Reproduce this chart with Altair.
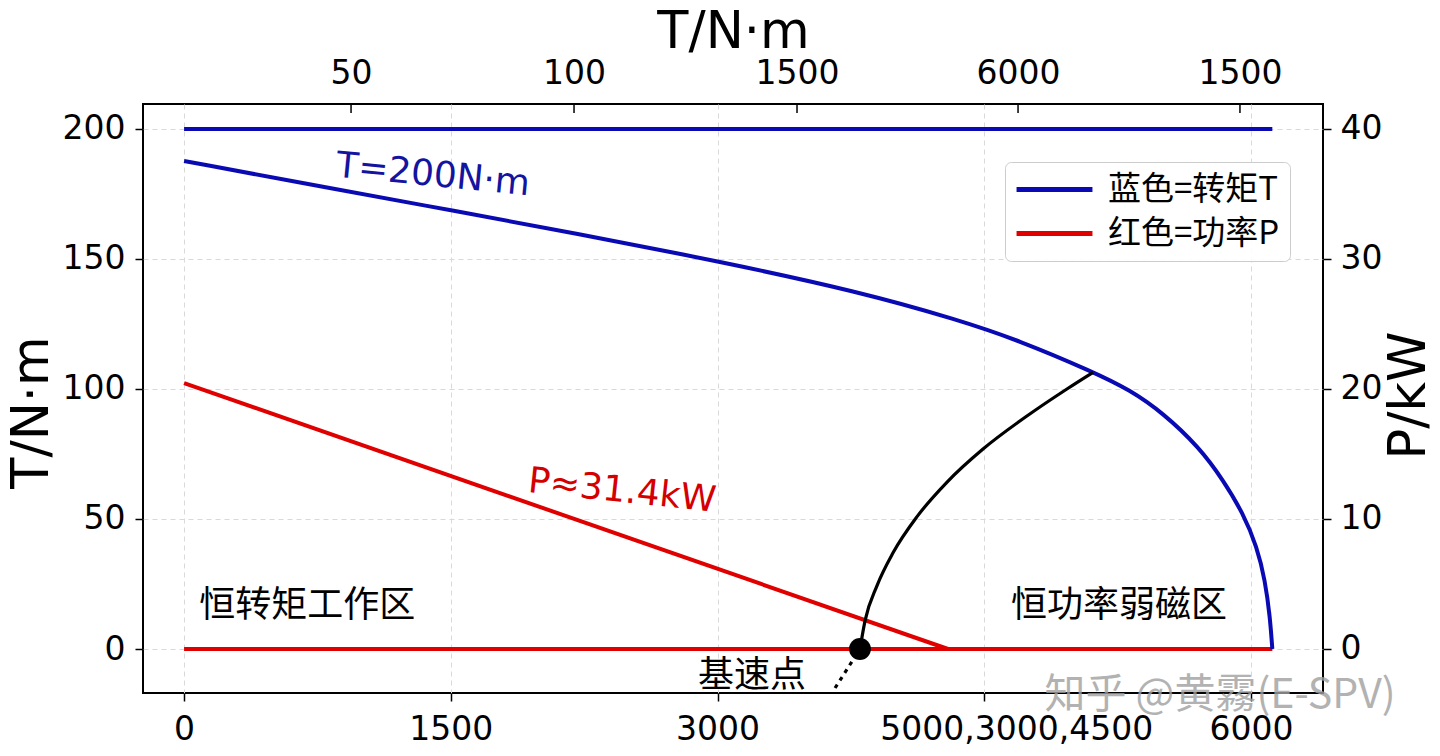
import altair as alt
import pandas as pd

# ---------------- data ----------------
blue_top_x = [0, 6120]
blue_top_T = [200, 200]

blue_curve_x = [0, 877, 1496, 2193, 3014, 3790, 4358, 4690, 5112, 5320, 5505,
                5710, 5843, 5955, 6034, 6079, 6107, 6120]
blue_curve_T = [187.7, 176.5, 168.8, 160.0, 149.0, 137.5, 126.5, 118.8, 106.6,
                99.6, 90.8, 77.5, 65.0, 52.3, 39.2, 26.5, 12.3, 0.0]

black_x = [3801, 3830, 3897, 3987, 4122, 4291, 4493, 4740, 4965, 5112]
black_T = [0.0, 11.0, 24.4, 37.0, 50.9, 64.2, 76.9, 89.6, 100.0, 106.4]

red_x = [0, 4296]
red_P = [20.45, 0.0]
red_zero_x = [0, 6120]
red_zero_P = [0.0, 0.0]

base_x = [3801]
base_T = [0.0]
dotted_x = [3801, 3661]
dotted_T = [0.0, -15.0]

bottom_ticks = [0, 1500, 3000, 4500, 6000]
bottom_labels = ["0", "1500", "3000", "5000,3000,4500", "6000"]
top_ticks = [939, 2193, 3447, 4690, 5938]
top_labels = ["50", "100", "1500", "6000", "1500"]
left_ticks = [0, 50, 100, 150, 200]
right_ticks = [0, 10, 20, 30, 40]

series = ["蓝色=转矩T", "红色=功率P"]

BLUE = "#0a0ab4"
RED = "#e00000"
FONT = "DejaVu Sans"
CJK = "Noto Sans CJK SC"


def label_expr(vals, labels):
    expr = "''"
    for v, l in reversed(list(zip(vals, labels))):
        expr = f"datum.value == {v} ? '{l}' : ({expr})"
    return expr


xs = alt.Scale(domain=[-231, 6405], nice=False, zero=False)
ts = alt.Scale(domain=[-16.92, 209.6], nice=False, zero=False)
ps = alt.Scale(domain=[-3.385, 41.92], nice=False, zero=False)
cs = alt.Scale(domain=series, range=[BLUE, RED])

leg = alt.Legend(
    orient="none", legendX=862, legendY=58, title=None,
    symbolType="M-2.53,0L2.53,0", symbolSize=900, symbolStrokeWidth=5,
    symbolOffset=22, labelOffset=36, labelFont=CJK, labelFontSize=33,
    labelColor="black", rowPadding=9, padding=10, strokeColor="#cccccc",
    fillColor="rgba(255,255,255,0.9)", cornerRadius=6, labelLimit=400,
)

grid_common = dict(gridDash=[5, 4], gridColor="#d9d9d9", gridWidth=1)

bottom_axis = alt.Axis(
    orient="bottom", values=bottom_ticks,
    labelExpr=label_expr(bottom_ticks, bottom_labels),
    labelOffset={"condition": {"test": "datum.value == 4500", "value": 32}, "value": 0},
    grid=True, domain=False, tickSize=8, tickColor="black", tickWidth=1.5,
    labelPadding=12, labelFont=FONT, labelFontSize=33, labelColor="black",
    title=None, labelFlush=False, labelOverlap=False, labelLimit=500,
    **grid_common,
)
top_axis = alt.Axis(
    orient="top", values=top_ticks, labelExpr=label_expr(top_ticks, top_labels),
    ticks=False, tickSize=0, domain=False, grid=False, labelPadding=14,
    labelFont=FONT, labelFontSize=33, labelColor="black", labelFlush=False,
    labelOverlap=False,
    title="T/N·m", titleX=590, titleY=-57, titleAlign="center",
    titleBaseline="alphabetic", titleFont=FONT, titleFontSize=51,
    titleFontWeight="normal", titleColor="black",
)
left_axis = alt.Axis(
    orient="left", values=left_ticks, grid=True, domain=False, tickSize=8,
    tickColor="black", tickWidth=1.5, labelPadding=10, labelFont=FONT,
    labelFontSize=33, labelColor="black",
    title="T/N·m", titleX=-96, titleY=308, titleAngle=270, titleAlign="center",
    titleBaseline="alphabetic", titleFont=FONT, titleFontSize=51,
    titleFontWeight="normal", titleColor="black", **grid_common,
)
right_axis = alt.Axis(
    orient="right", values=right_ticks, grid=False, domain=False, tickSize=8,
    tickColor="black", tickWidth=1.5, labelPadding=9, labelFont=FONT,
    labelFontSize=33, labelColor="black",
    title="P/kW", titleX=101, titleY=291, titleAngle=270, titleAlign="center",
    titleBaseline="alphabetic", titleFont=FONT, titleFontSize=51,
    titleFontWeight="normal", titleColor="black",
)


def df(**cols):
    return pd.DataFrame(cols)


# ---------------- torque group (left scale) ----------------
blue_top = alt.Chart(df(x=blue_top_x, T=blue_top_T, s=[series[0]] * 2)).mark_line(
    strokeWidth=4).encode(
    x=alt.X("x:Q", scale=xs, axis=bottom_axis),
    y=alt.Y("T:Q", scale=ts, axis=left_axis),
    color=alt.Color("s:N", scale=cs, legend=leg),
)
blue_curve = alt.Chart(df(x=blue_curve_x, T=blue_curve_T, s=[series[0]] * len(blue_curve_x))).mark_line(
    strokeWidth=4, interpolate="basis").encode(
    x=alt.X("x:Q", scale=xs, axis=None),
    y=alt.Y("T:Q", scale=ts, axis=None),
    color=alt.Color("s:N", scale=cs, legend=leg),
)
black_curve = alt.Chart(df(x=black_x, T=black_T)).mark_line(
    strokeWidth=3.2, color="black", interpolate="monotone").encode(
    x=alt.X("x:Q", scale=xs, axis=None),
    y=alt.Y("T:Q", scale=ts, axis=None),
)
dotted = alt.Chart(df(x=dotted_x, T=dotted_T)).mark_line(
    strokeWidth=3.2, color="black", strokeDash=[4, 5]).encode(
    x=alt.X("x:Q", scale=xs, axis=None),
    y=alt.Y("T:Q", scale=ts, axis=None),
)
dot = alt.Chart(df(x=base_x, T=base_T)).mark_point(
    filled=True, color="black", size=480, opacity=1).encode(
    x=alt.X("x:Q", scale=xs, axis=None),
    y=alt.Y("T:Q", scale=ts, axis=None),
)
top_rule = alt.Chart(df(x=top_ticks)).mark_rule(color="black", strokeWidth=1.5).encode(
    x=alt.X("x:Q", scale=xs, axis=top_axis),
    y=alt.value(0), y2=alt.value(9),
)


def note(x, T, text, color, size, font, angle=0, opacity=1.0):
    return alt.Chart(df(x=[x], T=[T], t=[text])).mark_text(
        color=color, fontSize=size, font=font, angle=angle, align="center",
        baseline="middle", opacity=opacity).encode(
        x=alt.X("x:Q", scale=xs, axis=None),
        y=alt.Y("T:Q", scale=ts, axis=None),
        text="t:N",
    )


notes = [
    note(1400, 182.3, "T=200N·m", "#1414a0", 36, FONT, angle=5.5),
    note(2463, 60.8, "P≈31.4kW", "#d40000", 36, FONT, angle=6),
    note(692, 16.6, "恒转矩工作区", "black", 36, CJK),
    note(5258, 16.6, "恒功率弱磁区", "black", 36, CJK),
    note(3194, -10.5, "基速点", "black", 36, CJK),
    note(5826, -18.0, "知乎 @黄霧(E-SPV)", "#a0a0a0", 41, CJK, opacity=0.8),
]

torque = alt.layer(blue_top, blue_curve, black_curve, dotted, dot, top_rule,
                   *notes).resolve_axis(x="independent", y="independent")

# ---------------- power group (right scale) ----------------
red_slope = alt.Chart(df(x=red_x, P=red_P, s=[series[1]] * 2)).mark_line(
    strokeWidth=4).encode(
    x=alt.X("x:Q", scale=xs, axis=None),
    y=alt.Y("P:Q", scale=ps, axis=right_axis),
    color=alt.Color("s:N", scale=cs, legend=leg),
)
red_zero = alt.Chart(df(x=red_zero_x, P=red_zero_P, s=[series[1]] * 2)).mark_line(
    strokeWidth=4).encode(
    x=alt.X("x:Q", scale=xs, axis=None),
    y=alt.Y("P:Q", scale=ps, axis=right_axis),
    color=alt.Color("s:N", scale=cs, legend=leg),
)
power = alt.layer(red_slope, red_zero)

chart = alt.layer(power, torque).resolve_scale(y="independent").properties(
    width=1180, height=589,
    autosize=alt.AutoSizeParams(type="none"),
    padding={"left": 135, "top": 96, "right": 109, "bottom": 55},
    background="white",
).configure_view(stroke="black", strokeWidth=2)

chart.save("out.html", embed_options={"renderer": "svg", "actions": False})
